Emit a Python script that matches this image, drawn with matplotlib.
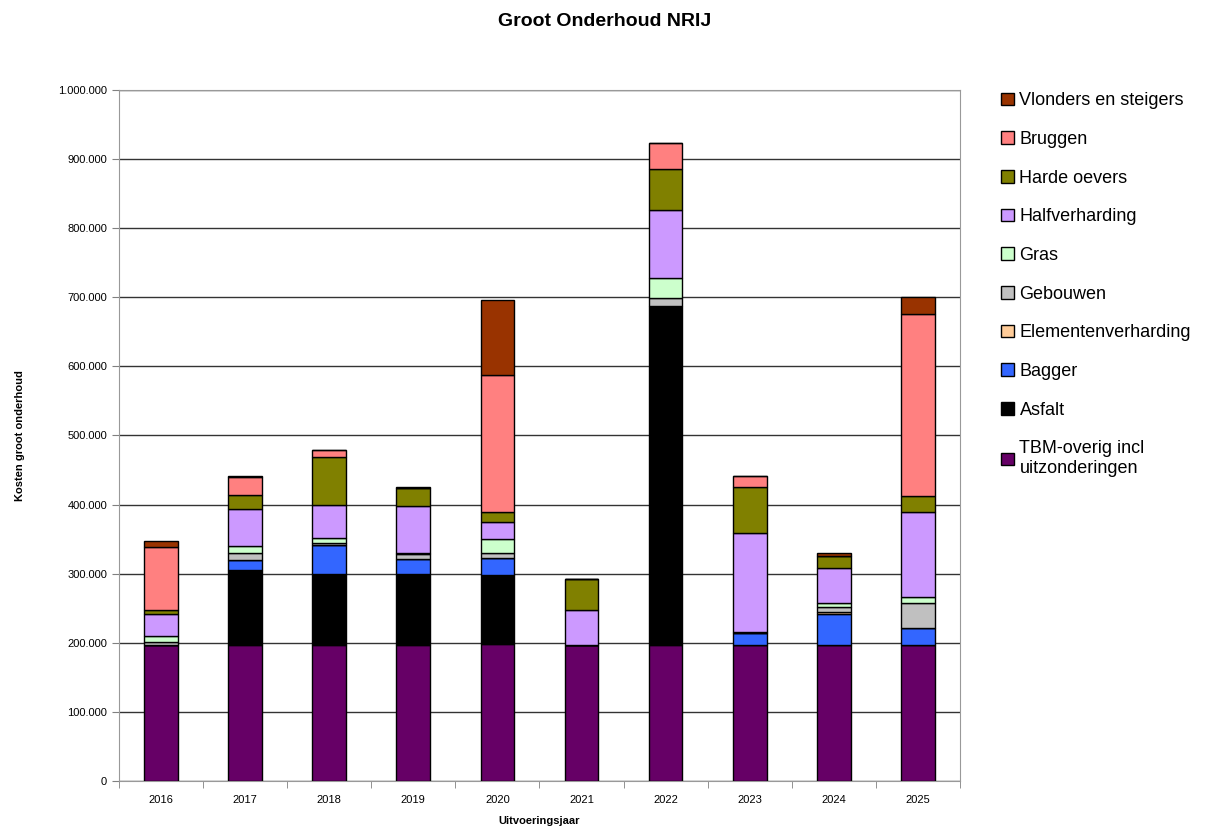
import matplotlib.pyplot as plt
import numpy as np
from matplotlib.ticker import FuncFormatter

jaren = ['2016', '2017', '2018', '2019', '2020', '2021', '2022', '2023', '2024', '2025']

# waarden per categorie (euro), van onder naar boven gestapeld
tbm = [197000, 197000, 197000, 197000, 198000, 197000, 197000, 197000, 197000, 197000]
asfalt = [0, 108000, 102000, 103000, 100000, 0, 491000, 0, 0, 0]
bagger = [0, 15000, 42000, 21000, 24000, 0, 0, 17000, 44000, 24000]
elementenverharding = [0, 0, 0, 0, 0, 0, 0, 0, 4000, 0]
gebouwen = [4000, 10000, 3000, 7000, 8000, 0, 11000, 2000, 7000, 36000]
gras = [9000, 10000, 8000, 2000, 20000, 0, 29000, 0, 6000, 9000]
halfverharding = [31000, 53000, 47000, 68000, 25000, 51000, 98000, 143000, 50000, 123000]
harde_oevers = [7000, 21000, 70000, 26000, 14000, 45000, 60000, 66000, 18000, 24000]
bruggen = [91000, 26000, 10000, 0, 199000, 0, 37000, 16000, 0, 263000]
vlonders = [8000, 2000, 0, 2000, 108000, 0, 0, 0, 4000, 25000]

series = [
    ('TBM-overig incl\nuitzonderingen', tbm, '#660066'),
    ('Asfalt', asfalt, '#000000'),
    ('Bagger', bagger, '#3366FF'),
    ('Elementenverharding', elementenverharding, '#FFCC99'),
    ('Gebouwen', gebouwen, '#C0C0C0'),
    ('Gras', gras, '#CCFFCC'),
    ('Halfverharding', halfverharding, '#CC99FF'),
    ('Harde oevers', harde_oevers, '#808000'),
    ('Bruggen', bruggen, '#FF8080'),
    ('Vlonders en steigers', vlonders, '#993300'),
]

plt.rcParams['font.family'] = ['Liberation Sans', 'DejaVu Sans']

fig = plt.figure(figsize=(12.09, 8.35), dpi=100)
ax = fig.add_axes([0.0984, 0.0647, 0.6956, 0.8275])

x = np.arange(len(jaren))
bottom = np.zeros(len(jaren))
handles = []
for naam, waarden, kleur in series:
    h = ax.bar(x, waarden, width=0.4, bottom=bottom, color=kleur,
               edgecolor='black', linewidth=1.0, label=naam, zorder=3)
    handles.append(h)
    bottom += np.array(waarden)

ax.set_xlim(-0.5, len(jaren) - 0.5)
ax.set_ylim(0, 1000000)
ax.set_yticks(np.arange(0, 1000001, 100000))
ax.yaxis.set_major_formatter(FuncFormatter(lambda v, p: f'{int(v):,}'.replace(',', '.')))
ax.set_xticks(x)
ax.set_xticklabels(jaren)
ax.set_xticks(np.arange(-0.5, len(jaren), 1), minor=True)
ax.tick_params(axis='x', which='major', length=0, labelsize=8, pad=10)
ax.tick_params(axis='x', which='minor', length=5, color='#808080')
ax.tick_params(axis='y', labelsize=8, length=5, color='#808080')

ax.grid(axis='y', color='#333333', linewidth=1.0, zorder=0)
for s in ax.spines.values():
    s.set_color('#999999')

ax.set_xlabel('Uitvoeringsjaar', fontsize=8, fontweight='bold', labelpad=8)
ax.set_ylabel('Kosten groot onderhoud', fontsize=8, fontweight='bold', labelpad=24)
fig.suptitle('Groot Onderhoud NRIJ', fontsize=14, fontweight='bold', y=0.985)

leg = ax.legend(handles[::-1], [s[0] for s in series][::-1],
                loc='upper left', bbox_to_anchor=(1.03, 1.02), frameon=False,
                fontsize=13, handlelength=0.7, handleheight=0.7,
                handletextpad=0.3, labelspacing=1.2)

fig.savefig('out.png', dpi=100)
